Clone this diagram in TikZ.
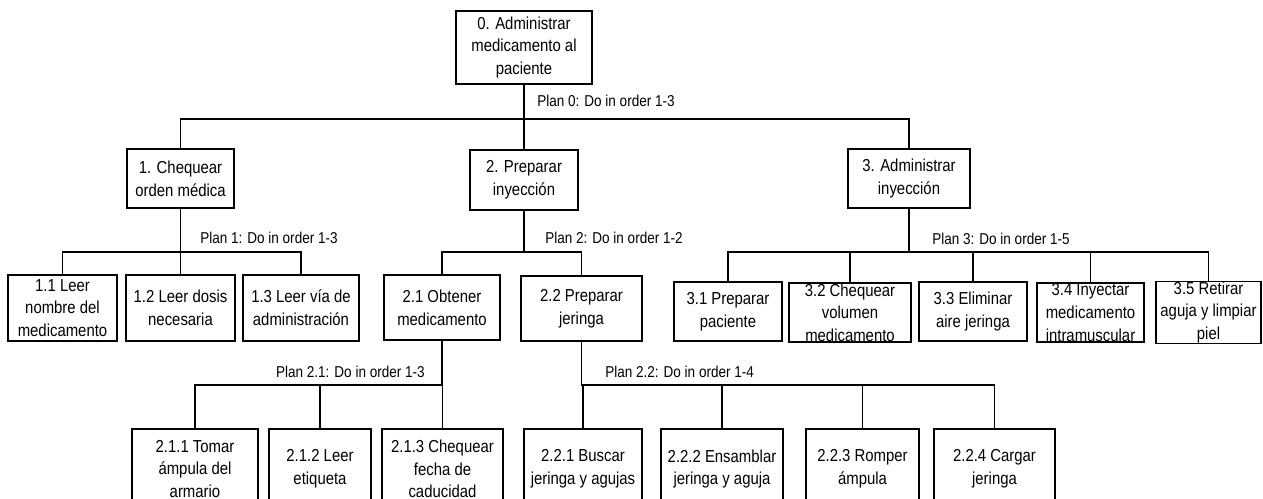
\documentclass[tikz,border=0pt]{standalone}
\usepackage{fontspec}
\setmainfont[FakeStretch=0.86]{Liberation Sans}
\newcommand{\boxfont}{\fontsize{13}{17}\selectfont}
\newcommand{\planfont}{\fontsize{11.8}{14}\selectfont}
\tikzset{
  task/.style={draw, line width=1pt, align=center, inner sep=0pt, font=\boxfont},
  wh/.style 2 args={minimum width=#1*0.75pt, minimum height=#2*0.75pt},
  plan/.style={inner sep=0pt, font=\planfont},
  link/.style={line width=1pt}
}
\begin{document}
\begin{tikzpicture}[x=0.75pt,y=-0.75pt]
\useasboundingbox (0,0) rectangle (1263,499);
\clip (0,0) rectangle (1263,499);
% level 0
\node (T0) at (524,47.5) [task,wh={136}{73}] {0. Administrar\\medicamento al\\paciente};
% level 1
\node (T1) at (180.5,178.5) [task,wh={107}{59}] {1. Chequear\\orden médica};
\node (T2) at (524,180) [task,wh={108}{60}] {2. Preparar\\inyección};
\node (T3) at (909,178.5) [task,wh={122}{59}] {3. Administrar\\inyección};
% level 2
\node (T11) at (62.5,308) [task,wh={109}{66}] {1.1 Leer\\nombre del\\medicamento};
\node (T12) at (180.5,308) [task,wh={109}{66}] {1.2 Leer dosis\\necesaria};
\node (T13) at (301,308) [task,wh={116}{66}] {1.3 Leer vía de\\administración};
\node (T21) at (442,307.5) [task,wh={116}{65}] {2.1 Obtener\\medicamento};
\node (T22) at (581.5,308.5) [task,wh={121}{65}] {2.2 Preparar\\jeringa};
\node (T31) at (728,311.5) [task,wh={108}{59}] {3.1 Preparar\\paciente};
\node (T32) at (850,312.5) [task,wh={122}{59}] {3.2 Chequear\\volumen\\medicamento};
\node (T33) at (973,311.5) [task,wh={108}{59}] {3.3 Eliminar\\aire jeringa};
\node (T34) at (1090.5,312.5) [task,wh={107}{59}] {3.4 Inyectar\\medicamento\\intramuscular};
\node (T35) at (1208.5,312.5) [task,wh={105}{59}] {3.5 Retirar\\aguja y limpiar\\piel};
% level 3
\node (T211) at (195,469) [task,wh={126}{80}] {2.1.1 Tomar\\ámpula del\\armario};
\node (T212) at (320,469) [task,wh={102}{80}] {2.1.2 Leer\\etiqueta};
\node (T213) at (442.5,469) [task,wh={121}{80}] {2.1.3 Chequear\\fecha de\\caducidad};
\node (T221) at (583,469) [task,wh={118}{80}] {2.2.1 Buscar\\jeringa y agujas};
\node (T222) at (722,469) [task,wh={122}{80}] {2.2.2 Ensamblar\\jeringa y aguja};
\node (T223) at (862.5,469) [task,wh={113}{80}] {2.2.3 Romper\\ámpula};
\node (T224) at (994.5,469) [task,wh={121}{80}] {2.2.4 Cargar\\jeringa};
% plans
\node (P0) at (537,101) [plan,anchor=west] {Plan 0: Do in order 1-3};
\node (P1) at (200,238) [plan,anchor=west] {Plan 1: Do in order 1-3};
\node (P2) at (545,238) [plan,anchor=west] {Plan 2: Do in order 1-2};
\node (P3) at (932,239) [plan,anchor=west] {Plan 3: Do in order 1-5};
\node (P21) at (425,372) [plan,anchor=east] {Plan 2.1: Do in order 1-3};
\node (P22) at (605,372) [plan,anchor=west] {Plan 2.2: Do in order 1-4};
% connectors
\foreach \p/\c/\y in {T0/T1/119, T0/T2/119, T0/T3/119,
    T1/T11/252, T1/T12/252, T1/T13/252,
    T2/T21/252, T2/T22/252,
    T3/T31/252, T3/T32/252, T3/T33/252, T3/T34/252, T3/T35/252,
    T21/T211/385, T21/T212/385, T21/T213/385,
    T22/T221/385, T22/T222/385, T22/T223/385, T22/T224/385}
  \draw[link] (\p.south) |- (\c.north |- 0,\y) -- (\c.north);
\end{tikzpicture}
\end{document}
